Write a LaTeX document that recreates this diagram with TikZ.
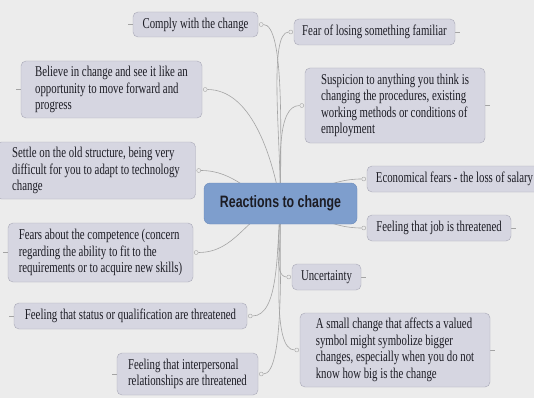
\documentclass[tikz,border=0pt]{standalone}
\usepackage{fontspec}
\setmainfont{Liberation Serif}[FakeStretch=0.72]
\newfontfamily\rootfont{Liberation Sans}[FakeStretch=0.75]
\usetikzlibrary{backgrounds}
\definecolor{bgc}{HTML}{ECECEC}
\definecolor{boxc}{HTML}{D6D6E1}
\definecolor{boxline}{HTML}{A9A9B7}
\definecolor{rootc}{HTML}{7E9ECD}
\definecolor{rootline}{HTML}{6A8ABA}
\definecolor{linec}{HTML}{A4A4A4}
\definecolor{txtc}{HTML}{1C1C24}
\tikzset{
	item/.style={draw=boxline,fill=boxc,rounded corners=5pt,align=left,inner sep=0pt,
		text=txtc,font=\fontsize{15}{16.5}\selectfont},
	root/.style={draw=rootline,fill=rootc,rounded corners=6pt,inner sep=0pt,
		text=txtc,font=\rootfont\bfseries\fontsize{16.5}{18}\selectfont},
	knob/.style={circle,draw=linec,fill=bgc,inner sep=0pt,minimum size=4pt},
	conn/.style={draw=linec,line width=0.6pt}
}
\begin{document}
\begin{tikzpicture}[x=1pt,y=-1pt]
		\useasboundingbox (0,0) rectangle (534,398);
		\node[root,minimum width=153,minimum height=41](rc) at (280.5,203.5){Reactions to change};
		% left side
		\node[item,minimum width=125,minimum height=25](comply) at (195.5,24.5){Comply with the change};
		\node[item,minimum width=181,minimum height=57](believe) at (111.5,89.5){Believe in change and see it like an\\opportunity to move forward and\\progress};
		\node[item,minimum width=199,minimum height=57](settle) at (96,170.5){Settle on the old structure, being very\\difficult for you to adapt to technology\\change};
		\node[item,minimum width=185,minimum height=59](compet) at (100.5,252.5){Fears about the competence (concern\\regarding the ability to fit to the\\requirements or to acquire new skills)};
		\node[item,minimum width=233,minimum height=26](status) at (130.5,316){Feeling that status or qualification are threatened};
		\node[item,minimum width=141,minimum height=42](interp) at (187.5,374){Feeling that interpersonal\\relationships are threatened};
		% right side
		\node[item,minimum width=161,minimum height=26](fear) at (374.5,32){Fear of losing something familiar};
		\node[item,minimum width=180,minimum height=75](suspic) at (395,105.5){Suspicion to anything you think is\\changing the procedures, existing\\working methods or conditions of\\employment};
		\node[item,minimum width=175,minimum height=26](econ) at (454.5,179){Economical fears - the loss of salary};
		\node[item,minimum width=144,minimum height=26](job) at (439,228){Feeling that job is threatened};
		\node[item,minimum width=69,minimum height=26](uncert) at (326.5,277){Uncertainty};
		\node[item,minimum width=190,minimum height=74](small) at (395,350){A small change that affects a valued\\symbol might symbolize bigger\\changes, especially when you do not\\know how big is the change};
		% knobs
		\foreach \n in {comply,believe,settle,compet,status,interp}
			\node[knob](\n-k) at ([xshift=3pt]\n.east){};
		\foreach \n in {fear,suspic,econ,job,uncert,small}
			\node[knob](\n-k) at ([xshift=-3pt]\n.west){};
		\begin{scope}[on background layer]
			\fill[bgc] (0,0) rectangle (534,398);
			\draw[conn] (rc.center) to[out=90,in=0,in looseness=0.3] (comply-k);
			\draw[conn] (rc.center) to[out=100,in=0,in looseness=0.8] (believe-k);
			\draw[conn] (rc.center) to[out=165,in=0] (settle-k);
			\draw[conn] (rc.center) to[out=200,in=0] (compet-k);
			\draw[conn] (rc.center) to[out=-95,in=0,in looseness=0.6] (status-k);
			\draw[conn] (rc.center) to[out=-90,in=0,in looseness=0.3] (interp-k);
			\draw[conn] (rc.center) to[out=90,in=180,in looseness=0.3] (fear-k);
			\draw[conn] (rc.center) to[out=90,in=180,in looseness=0.6] (suspic-k);
			\draw[conn] (rc.center) to[out=15,in=180] (econ-k);
			\draw[conn] (rc.center) to[out=-15,in=180] (job-k);
			\draw[conn] (rc.center) to[out=-90,in=180,in looseness=0.5] (uncert-k);
			\draw[conn] (rc.center) to[out=-90,in=180,in looseness=0.4] (small-k);
			% stubs
			\foreach \n in {comply,believe,settle,compet,status,interp}
				\draw[conn] (\n.west) -- ++(-5,0);
			\foreach \n in {fear,suspic,econ,job,uncert,small}
				\draw[conn] (\n.east) -- ++(5,0);
		\end{scope}
	\end{tikzpicture}
\end{document}
